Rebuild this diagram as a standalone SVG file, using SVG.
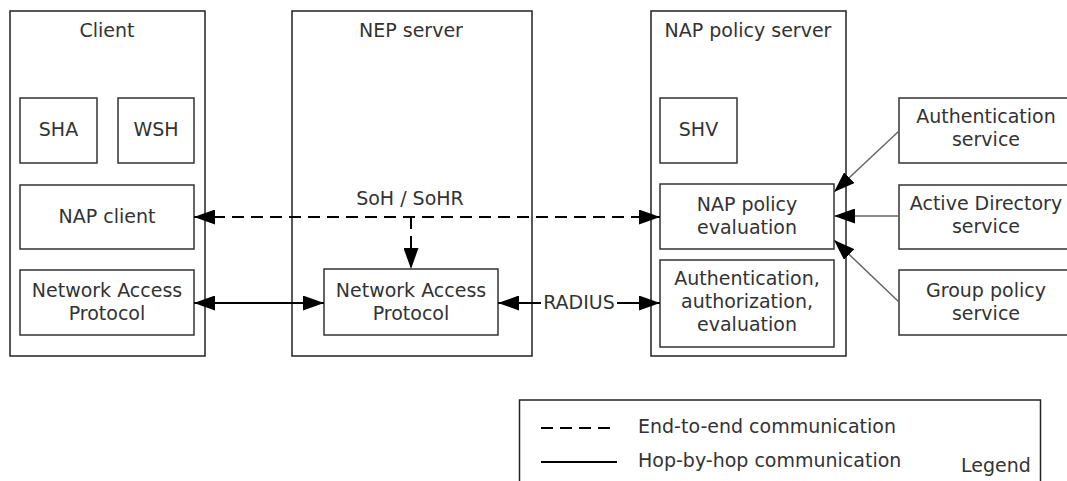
<svg xmlns="http://www.w3.org/2000/svg" width="1067" height="481" viewBox="0 0 1067 481">
<style>
  .box { fill: #fff; stroke: #333; stroke-width: 1.5; }
  .outer { fill: none; stroke: #222; stroke-width: 1.5; }
  text { font-family: "DejaVu Sans", Verdana, sans-serif; font-size: 19px; fill: #333; text-anchor: middle; }
  .lg { text-anchor: start; }
  .ln { stroke: #000; stroke-width: 2; fill: none; }
  .dash { stroke: #000; stroke-width: 2; fill: none; stroke-dasharray: 12 7; }
  .thin { stroke: #666; stroke-width: 1.5; fill: none; }
</style>
<defs>
  <marker id="ah" markerUnits="userSpaceOnUse" markerWidth="21" markerHeight="15" refX="21" refY="7.5" orient="auto-start-reverse" viewBox="0 0 21 15">
    <path d="M0,0 L21,7.5 L0,15 z" fill="#000"/>
  </marker>
</defs>
<rect width="1067" height="481" fill="#fff"/>

<g id="client">
  <rect class="outer" x="10" y="11" width="195" height="345"/>
  <text x="107" y="37">Client</text>
</g>
<g id="sha"><rect class="box" x="20" y="98" width="77" height="65"/><text x="58.5" y="136">SHA</text></g>
<g id="wsh"><rect class="box" x="118" y="98" width="76" height="65"/><text x="156" y="136">WSH</text></g>
<g id="napclient"><rect class="box" x="20" y="185" width="174" height="64"/><text x="107" y="223">NAP client</text></g>
<g id="clientnap"><rect class="box" x="20" y="270" width="174" height="65"/><text x="107" y="297">Network Access</text><text x="107" y="320">Protocol</text></g>

<g id="nep">
  <rect class="outer" x="292" y="11" width="240" height="345"/>
  <text x="411" y="37">NEP server</text>
</g>
<g id="nepnap"><rect class="box" x="324" y="269" width="174" height="66"/><text x="411" y="297">Network Access</text><text x="411" y="320">Protocol</text></g>

<g id="napserver">
  <rect class="outer" x="651" y="11" width="195" height="345"/>
  <text x="748" y="37">NAP policy server</text>
</g>
<g id="shv"><rect class="box" x="660" y="98" width="77" height="65"/><text x="698.5" y="136">SHV</text></g>
<g id="eval"><rect class="box" x="660" y="184" width="174" height="65"/><text x="747" y="211">NAP policy</text><text x="747" y="234">evaluation</text></g>
<g id="aae"><rect class="box" x="660" y="260" width="174" height="87"/><text x="747" y="285">Authentication,</text><text x="747" y="308">authorization,</text><text x="747" y="331">evaluation</text></g>

<g id="authsvc"><rect class="box" x="899" y="98" width="174" height="65"/><text x="986" y="123">Authentication</text><text x="986" y="146">service</text></g>
<g id="adsvc"><rect class="box" x="899" y="185" width="174" height="64"/><text x="986" y="210">Active Directory</text><text x="986" y="233">service</text></g>
<g id="gpsvc"><rect class="box" x="899" y="270" width="174" height="65"/><text x="986" y="297">Group policy</text><text x="986" y="320">service</text></g>

<g id="connectors">
  <line class="dash" x1="194" y1="217" x2="660" y2="217" marker-start="url(#ah)" marker-end="url(#ah)"/>
  <line class="dash" x1="411" y1="217" x2="411" y2="269" marker-end="url(#ah)"/>
  <text x="410" y="205">SoH / SoHR</text>
  <line class="ln" x1="194" y1="303" x2="324" y2="303" marker-start="url(#ah)" marker-end="url(#ah)"/>
  <line class="ln" x1="498" y1="303" x2="541" y2="303" marker-start="url(#ah)"/>
  <line class="ln" x1="617" y1="303" x2="660" y2="303" marker-end="url(#ah)"/>
  <text x="579" y="309">RADIUS</text>
  <line class="thin" x1="899" y1="131" x2="834" y2="192" marker-end="url(#ah)"/>
  <line class="thin" x1="899" y1="216" x2="834" y2="216" marker-end="url(#ah)"/>
  <line class="thin" x1="899" y1="302" x2="834" y2="240" marker-end="url(#ah)"/>
</g>

<g id="legend">
  <rect class="outer" x="519.5" y="400" width="521" height="100"/>
  <line class="dash" x1="541" y1="428" x2="617" y2="428" stroke-width="1.5" stroke-dasharray="13 6"/>
  <line class="ln" x1="541" y1="462" x2="617" y2="462" stroke-width="1.5"/>
  <text class="lg" x="638" y="433">End-to-end communication</text>
  <text class="lg" x="638" y="467">Hop-by-hop communication</text>
  <text x="996" y="472">Legend</text>
</g>
</svg>
